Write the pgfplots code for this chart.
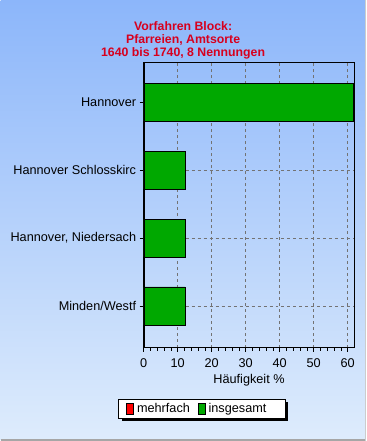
\documentclass[border=0pt]{standalone}
\usepackage{pgfplots}
\pgfplotsset{compat=1.18}
\usepackage{fontspec}
\setmainfont{Liberation Sans}
\definecolor{bgtop}{RGB}{140,182,250}
\definecolor{bgbot}{RGB}{222,236,252}
\definecolor{bargreen}{RGB}{0,168,0}
\definecolor{titlered}{RGB}{215,0,30}
\begin{document}
\begin{tikzpicture}[x=1pt,y=1pt]
\shade[top color=bgtop, bottom color=bgbot] (0,0) rectangle (365,441);
\draw[gray!70, line width=1.5pt] (0,0.75) -- (365,0.75);
\draw[gray!40] (364.5,0) -- (364.5,441);
\node[font=\fontsize{12.3}{13}\selectfont\bfseries, text=titlered, align=center] at (182.5,401) {Vorfahren Block:\\Pfarreien, Amtsorte\\1640 bis 1740, 8 Nennungen};
% legend frame with shadow
\fill[black] (121,20) rectangle (288,39);
\filldraw[fill=white, draw=black, line width=0.6pt] (118,23) rectangle (285,42);
\begin{axis}[at={(143pt,93pt)}, anchor=south west, scale only axis, width=211pt, height=286pt,
  xbar, bar width=38pt, xmin=0, xmax=62, ymin=-0.617, ymax=3.588,
  ytick={0,1,2,3},
  yticklabels={Minden/Westf, {Hannover, Niedersach}, Hannover Schlosskirc, Hannover},
  xtick={0,10,...,60}, minor x tick num=4,
  xtick pos=bottom, ytick pos=left,
  tick align=outside, major tick length=4pt, minor tick length=3pt,
  tick style={black, line width=0.6pt},
  grid=major, major grid style={dashed, black!55, line width=0.5pt},
  xlabel={Häufigkeit \%},
  ticklabel style={font=\fontsize{12.7}{14}\selectfont},
  xticklabel style={yshift=-3pt},
  label style={font=\fontsize{12.7}{14}\selectfont},
  /pgf/number format/assume math mode=true,
  axis line style={line width=1.2pt},
  legend image code/.code={\draw[#1,draw=black,line width=0.4pt] (0pt,-5.5pt) rectangle (7pt,5.5pt); \path[draw=none,fill=none] (0pt,0) -- (8.5pt,0);},
  legend columns=2,
  legend style={at={(rel axis cs:0.255,-0.2115)}, anchor=center, draw=none, fill=none,
    font=\fontsize{12.7}{14}\selectfont, inner xsep=0pt, inner ysep=0pt, row sep=0pt,
    /tikz/every even column/.append style={column sep=6pt}},
]
\addlegendimage{fill=red}
\addlegendentry{mehrfach}
\addplot[fill=bargreen, draw=black, line width=0.8pt] coordinates {(61.7,3) (12.2,2) (12.2,1) (12.2,0)};
\addlegendentry{insgesamt}
\draw[line width=2pt] (rel axis cs:0,1) -- (rel axis cs:0,0) -- (rel axis cs:1,0);
\end{axis}
\end{tikzpicture}
\end{document}
